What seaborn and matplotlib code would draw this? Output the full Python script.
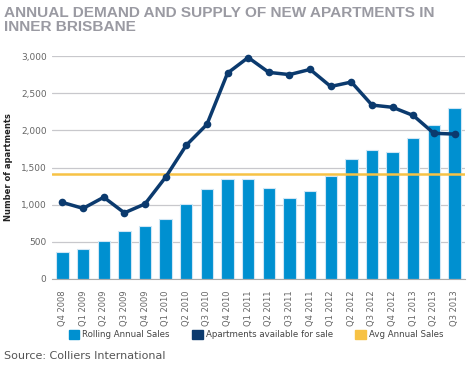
import matplotlib
matplotlib.use("Agg")
import matplotlib.pyplot as plt
import numpy as np
import pandas as pd
import seaborn as sns
from matplotlib.patches import Patch

quarters = ["Q4 2008", "Q1 2009", "Q2 2009", "Q3 2009", "Q4 2009", "Q1 2010", "Q2 2010",
            "Q3 2010", "Q4 2010", "Q1 2011", "Q2 2011", "Q3 2011", "Q4 2011", "Q1 2012",
            "Q2 2012", "Q3 2012", "Q4 2012", "Q1 2013", "Q2 2013", "Q3 2013"]
rolling_sales = [365, 400, 510, 650, 710, 810, 1010, 1210, 1350, 1340, 1220, 1090,
                 1190, 1390, 1610, 1740, 1710, 1900, 2070, 2300]
available = [1030, 950, 1100, 890, 1010, 1370, 1800, 2080, 2770, 2980, 2780, 2750,
             2820, 2590, 2650, 2340, 2310, 2200, 1960, 1950]
avg_sales = 1410

df = pd.DataFrame({"quarter": quarters, "sales": rolling_sales, "available": available})

bar_c = "#0090d0"
line_c = "#0b3a6e"
avg_c = "#f7c245"
grey = "#9a9aa2"

sns.set_style("white")
fig = plt.figure(figsize=(4.7, 3.71), dpi=100)
ax = fig.add_axes([0.111, 0.248, 0.878, 0.601])

sns.barplot(data=df, x="quarter", y="sales", color=bar_c, saturation=1, width=0.6,
            edgecolor="#cfe6f5", linewidth=0.8, ax=ax, zorder=2)
ax.axhline(avg_sales, color=avg_c, lw=1.8, zorder=3)
sns.lineplot(x=np.arange(len(quarters)), y=df["available"], color=line_c, lw=2.5,
             marker="o", markersize=5.5, markeredgewidth=0, ax=ax, zorder=4, clip_on=False)

ax.set_ylim(0, 3000)
ax.set_xlim(-0.5, len(quarters) - 0.5)
ax.set_yticks(range(0, 3001, 500))
ax.set_yticklabels([f"{v:,}" for v in range(0, 3001, 500)], fontsize=6.5, color="#666666")
ax.set_xticks(range(len(quarters)))
ax.set_xticklabels(quarters, rotation=90, fontsize=6, color="#666666")
ax.tick_params(axis="x", length=0, pad=8)
ax.tick_params(axis="y", length=0, pad=4)
ax.set_xticks(np.arange(-0.5, len(quarters), 1), minor=True)
ax.tick_params(axis="x", which="minor", length=3, color="#aaaaaa")
ax.grid(axis="y", color="#c8c8cc", lw=0.9, zorder=0)
ax.set_axisbelow(True)
for s in ["top", "right", "left"]:
    ax.spines[s].set_visible(False)
ax.spines["bottom"].set_color("#aaaaaa")
ax.set_xlabel("")
ax.set_ylabel("Number of apartments", fontsize=6, fontweight="bold", color="#222222", labelpad=6)

fig.text(0.008, 0.985, "ANNUAL DEMAND AND SUPPLY OF NEW APARTMENTS IN\nINNER BRISBANE",
         ha="left", va="top", fontsize=11.1, fontweight="bold", color=grey,
         family="Liberation Sans", linespacing=1.05)

handles = [Patch(color=bar_c), Patch(color=line_c), Patch(color=avg_c)]
fig.legend(handles, ["Rolling Annual Sales", "Apartments available for sale", "Avg Annual Sales"],
           loc="center", bbox_to_anchor=(0.545, 0.098), ncol=3, frameon=False, fontsize=6.2,
           handlelength=1.2, handleheight=1.2, columnspacing=2.6, handletextpad=0.4,
           labelcolor="#444444")

fig.text(0.008, 0.028, "Source: Colliers International", fontsize=8, color="#555555",
         ha="left", va="bottom")

fig.savefig("out.png", dpi=100)
